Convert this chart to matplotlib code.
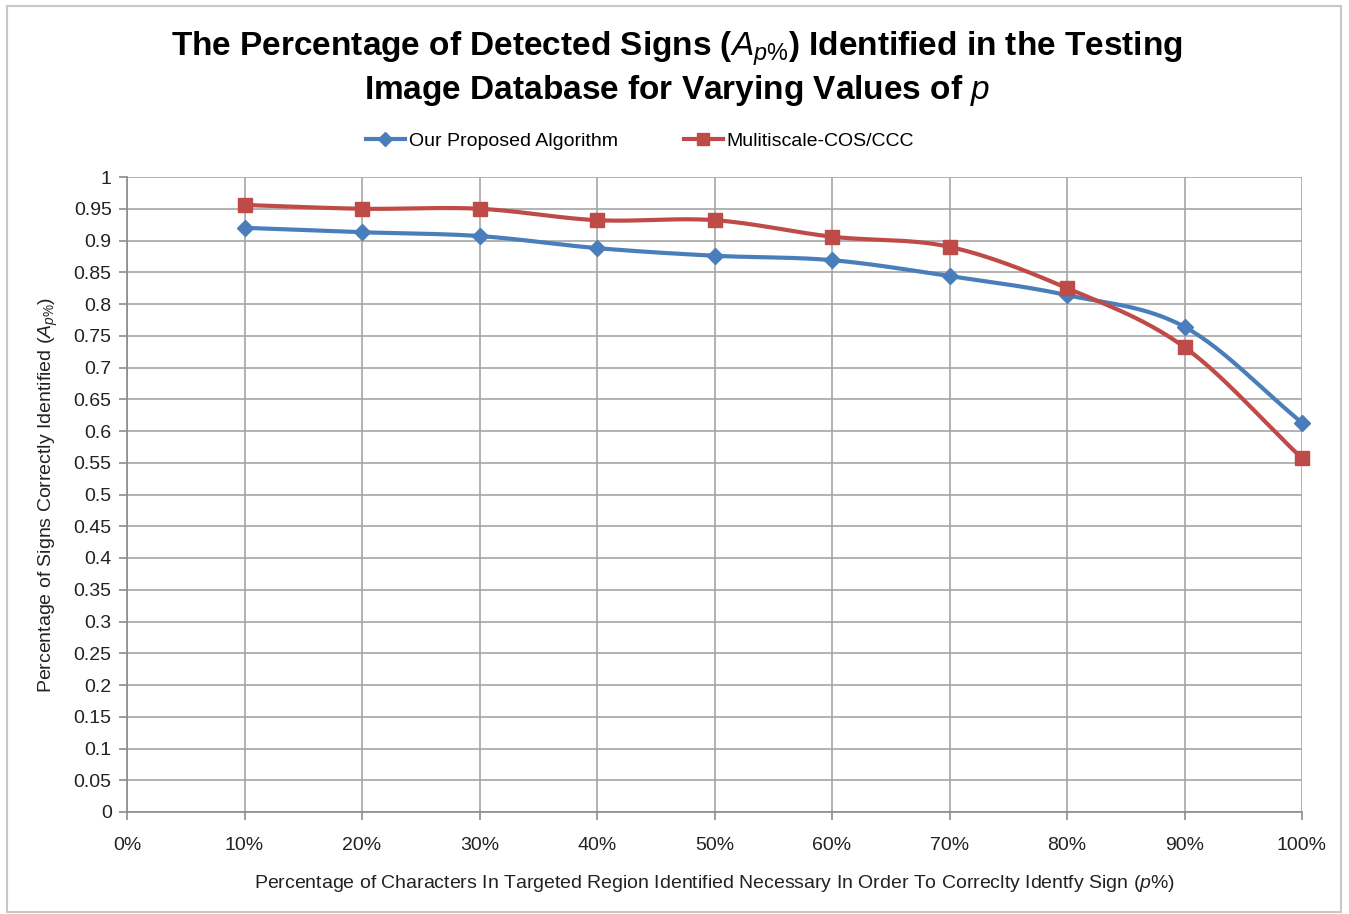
import numpy as np
import matplotlib
matplotlib.use("Agg")
import matplotlib.pyplot as plt
from matplotlib.patches import Rectangle

plt.rcParams['font.family'] = ['Liberation Sans', 'DejaVu Sans']
plt.rcParams['mathtext.fontset'] = 'custom'
plt.rcParams['mathtext.rm'] = 'Liberation Sans'
plt.rcParams['mathtext.it'] = 'Liberation Sans:italic'
plt.rcParams['mathtext.bf'] = 'Liberation Sans:bold'

# data
p_values = [10, 20, 30, 40, 50, 60, 70, 80, 90, 100]
proposed = [0.920, 0.913, 0.907, 0.888, 0.876, 0.869, 0.844, 0.814, 0.764, 0.613]
multiscale = [0.956, 0.950, 0.950, 0.932, 0.932, 0.906, 0.890, 0.825, 0.732, 0.557]
x_ticks = [0, 10, 20, 30, 40, 50, 60, 70, 80, 90, 100]
y_ticks = [round(0.05 * i, 2) for i in range(21)]

blue = '#4a7ebb'
red = '#be4b48'
grid_col = '#a6a6a6'


def smooth(x, y, n=30):
    # Catmull-Rom curve through the points, like Excel's smoothed line
    x = np.asarray(x, float)
    y = np.asarray(y, float)
    px = np.concatenate([[2 * x[0] - x[1]], x, [2 * x[-1] - x[-2]]])
    py = np.concatenate([[2 * y[0] - y[1]], y, [2 * y[-1] - y[-2]]])
    xs, ys = [], []
    t = np.linspace(0, 1, n)
    for i in range(1, len(px) - 2):
        for arr, out in ((px, xs), (py, ys)):
            p0, p1, p2, p3 = arr[i - 1], arr[i], arr[i + 1], arr[i + 2]
            out.extend(0.5 * ((2 * p1) + (-p0 + p2) * t
                              + (2 * p0 - 5 * p1 + 4 * p2 - p3) * t ** 2
                              + (-p0 + 3 * p1 - 3 * p2 + p3) * t ** 3))
    return xs, ys


fig = plt.figure(figsize=(13.49, 9.14), dpi=100)
ax = fig.add_axes([127 / 1349, 1 - 812 / 914, (1302 - 127) / 1349, (812 - 177) / 914])

# frame round the whole chart
fig.patches.append(Rectangle((7 / 1349, 2 / 914), 1334 / 1349, 906 / 914,
                             transform=fig.transFigure, fill=False,
                             edgecolor='#c8c8c8', linewidth=1.5))

for xv, yv, col, mk, ms in ((p_values, proposed, blue, 'D', 8),
                            (p_values, multiscale, red, 's', 10)):
    sx, sy = smooth(xv, yv)
    ax.plot(sx, sy, color=col, linewidth=3, zorder=3, solid_capstyle='round', clip_on=False)
    ax.plot(xv, yv, linestyle='none', marker=mk, markersize=ms, color=col, zorder=4, clip_on=False)

ax.set_xlim(0, 100)
ax.set_ylim(0, 1)
ax.set_xticks(x_ticks)
ax.set_xticklabels([f"{v}%" for v in x_ticks])
ax.set_yticks(y_ticks)
ax.set_yticklabels([f"{v:g}" for v in y_ticks])
ax.grid(True, color=grid_col, linewidth=1.2)
ax.set_axisbelow(True)
for side in ('top', 'right'):
    ax.spines[side].set_visible(False)
for side in ('left', 'bottom'):
    ax.spines[side].set_color('#8c8c8c')
    ax.spines[side].set_linewidth(1.2)
ax.tick_params(axis='both', colors='#8c8c8c', labelcolor='#222222', labelsize=14,
               length=6, width=1.2)
ax.tick_params(axis='x', pad=12)
ax.tick_params(axis='y', pad=5)

ax.set_xlabel(r"Percentage of Characters In Targeted Region Identified Necessary In Order To Correclty Identfy Sign ($p$%)",
              fontsize=14, color='#222222', labelpad=14)
ax.set_ylabel(r"Percentage of Signs Correctly Identified ($A_{p\%}$)",
              fontsize=14, color='#222222', labelpad=10)

fig.text(677 / 1349, 1 - 69 / 914,
         "The Percentage of Detected Signs ($A_{p\\%}$) Identified in the Testing\n"
         "Image Database for Varying Values of $p$",
         ha='center', va='center', fontsize=24, fontweight='bold', linespacing=1.2)

handles = [plt.Line2D([], [], color=blue, marker='D', markersize=7, linewidth=3),
           plt.Line2D([], [], color=red, marker='s', markersize=9, linewidth=3)]
fig.legend(handles, ['Our Proposed Algorithm', 'Mulitiscale-COS/CCC'],
           loc='center', bbox_to_anchor=(640 / 1349, 1 - 141 / 914), ncol=2,
           frameon=False, fontsize=14, handlelength=2.0, handletextpad=0.2,
           columnspacing=3.4)

fig.savefig('out.png', dpi=100, facecolor='white')
